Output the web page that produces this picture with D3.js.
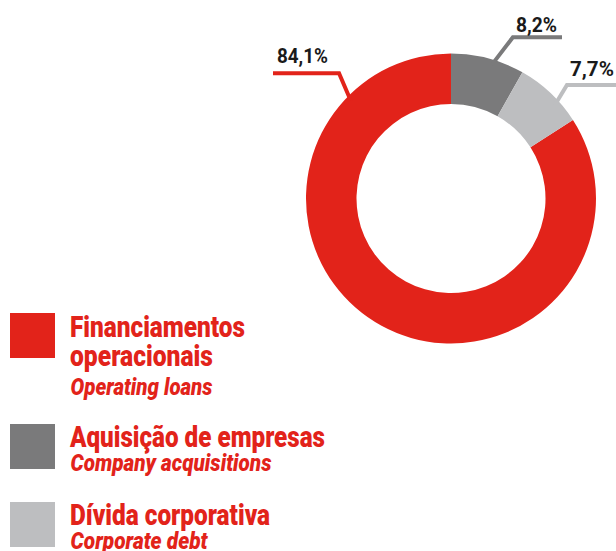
<!DOCTYPE html>
<html>
<head>
<meta charset="utf-8">
<script src="https://cdn.jsdelivr.net/npm/d3@7"></script>
<style>
  html, body { margin: 0; padding: 0; background: #fff; }
  svg { display: block; }
  text { font-family: "Liberation Sans Narrow", "Arial Narrow", Roboto, "Liberation Sans", sans-serif; }
</style>
</head>
<body>
<svg id="chart" width="616" height="551"></svg>
<script>
// ---- data ----
const categories = ["Financiamentos operacionais", "Aquisição de empresas", "Dívida corporativa"];
const categoryLines = [["Financiamentos", "operacionais"], ["Aquisição de empresas"], ["Dívida corporativa"]];
const categoriesEn = ["Operating loans", "Company acquisitions", "Corporate debt"];
const values = [84.1, 8.2, 7.7];
const valueLabels = ["84,1%", "8,2%", "7,7%"];
const colors = ["#E2231A", "#7A7A7B", "#BDBEC0"];

// ---- layout ----
const W = 616, H = 551;
const cx = 451, cy = 198.5, R = 145, r = 94.5;
const svg = d3.select("#chart");

const total = d3.sum(values);
const start = 2 * Math.PI * (total - values[0]) / total;
const pie = d3.pie().sort(null).value(d => d).startAngle(start).endAngle(start + 2 * Math.PI);
const arcs = pie(values);
const arc = d3.arc().innerRadius(r).outerRadius(R);

const g = svg.append("g").attr("transform", `translate(${cx},${cy})`);
g.selectAll("path.slice").data(arcs).enter().append("path")
  .attr("class", "slice")
  .attr("d", arc)
  .attr("fill", (d, i) => colors[i]);

// leader lines (angles in degrees clockwise from 12 o'clock, radii from center)
const leaders = [
  { a0: -45.7, r0: 140, a1: -41.8, r1: 168, endX: 273, side: -1, lw: 51, dy: -10 },
  { a0: 17, r0: 140, a1: 21, r1: 172.7, endX: 562, side: 1, lw: 41, dy: -5 },
  { a0: 48, r0: 140, a1: 45.6, r1: 162.3, endX: 616, side: 1, lw: 44, dy: -9 }
];
const pt = (a, rad) => [cx + rad * Math.sin(a * Math.PI / 180), cy - rad * Math.cos(a * Math.PI / 180)];
const line = d3.line();
leaders.forEach((L, i) => {
  const p0 = pt(L.a0, L.r0), p1 = pt(L.a1, L.r1), p2 = [L.endX, p1[1]];
  svg.append("path")
    .attr("d", line([p0, p1, p2]))
    .attr("fill", "none")
    .attr("stroke", colors[i])
    .attr("stroke-width", 4)
    .attr("stroke-linejoin", "miter");
  const tx = L.side < 0 ? L.endX + 4 : p1[0] + 3;
  svg.append("text")
    .attr("x", tx)
    .attr("y", p1[1] + L.dy)
    .attr("font-size", 21)
    .attr("font-weight", 700)
    .attr("fill", "#1a1a1a")
    .attr("textLength", L.lw)
    .attr("lengthAdjust", "spacingAndGlyphs")
    .text(valueLabels[i]);
});

// legend
const legendTop = [313, 424, 502];
const mainBase = [[336.5, 365.5], [446.5], [525]];
const mainW = [[175, 143], [255], [200]];
const enBase = [394.5, 471, 548.5];
const enW = [142, 201, 137];
categories.forEach((c, i) => {
  svg.append("rect")
    .attr("x", 10).attr("y", legendTop[i])
    .attr("width", 45).attr("height", 45)
    .attr("fill", colors[i]);
  categoryLines[i].forEach((t, j) => {
    svg.append("text")
      .attr("x", 70).attr("y", mainBase[i][j])
      .attr("font-size", 30).attr("font-weight", 900)
      .attr("fill", colors[0])
      .attr("textLength", mainW[i][j])
      .attr("lengthAdjust", "spacingAndGlyphs")
      .text(t);
  });
  svg.append("text")
    .attr("x", 70.5).attr("y", enBase[i])
    .attr("font-size", 24).attr("font-weight", 900).attr("font-style", "italic")
    .attr("fill", colors[0])
    .attr("textLength", enW[i])
    .attr("lengthAdjust", "spacingAndGlyphs")
    .text(categoriesEn[i]);
});
</script>
</body>
</html>
